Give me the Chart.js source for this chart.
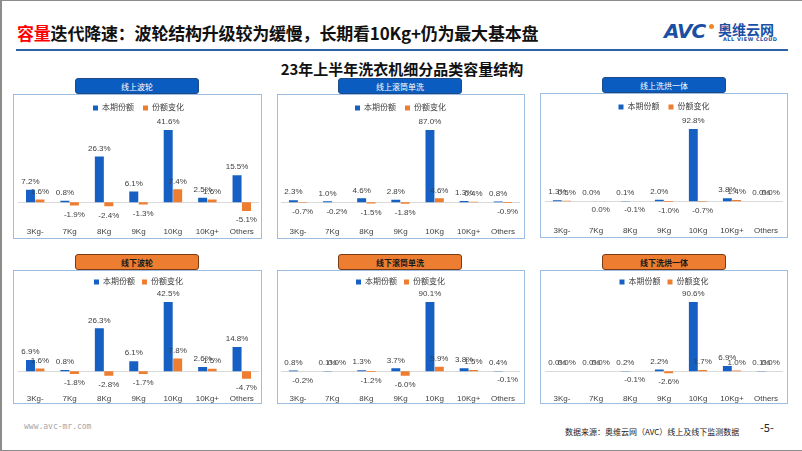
<!DOCTYPE html>
<html>
<head>
<meta charset="utf-8">
<script src="https://cdn.jsdelivr.net/npm/chart.js@4.4.1/dist/chart.umd.min.js"></script>
<style>
  html, body { margin: 0; padding: 0; background: #fff; }
  #slide { position: relative; width: 800px; height: 449px; border: 1px solid #8c8c8c; border-left-width: 2px; overflow: hidden;
           font-family: "Noto Sans CJK SC", "Noto Sans", sans-serif; }
  .title { position: absolute; left: 15px; top: 19px; font-size: 17px; font-weight: bold; color: #111; letter-spacing: -0.2px; }
  .title .red { color: #ff0000; }
  .rule { position: absolute; left: 14px; top: 48px; width: 772px; height: 2px; background: #2e62a8; }
  .subtitle { position: absolute; left: 0; width: 800px; top: 57px; text-align: center; font-size: 15px; font-weight: bold; color: #111; }
  .logo-avc { position: absolute; left: 662px; top: 18px; font: italic 900 20px "DejaVu Sans", sans-serif; color: #1b4fa3; letter-spacing: -1px; }
  .logo-dot { position: absolute; left: 707px; top: 23px; width: 5px; height: 5px; border-radius: 50%; background: #f08a24; }
  .logo-cn { position: absolute; left: 716px; top: 18px; font-size: 14px; font-weight: bold; color: #1b4fa3; }
  .logo-en { position: absolute; left: 721px; top: 35px; font: bold 5px "DejaVu Sans", sans-serif; color: #1b4fa3; letter-spacing: 0.5px; }
  .panel { position: absolute; border: 1px solid #9dbde3; box-sizing: border-box; }
  canvas.chart { position: absolute; }
  .tag { position: absolute; height: 16px; line-height: 15px; text-align: center; font-size: 8px; border-radius: 3px; box-sizing: border-box; }
  .tag.blue { background: #0b5cc0; border: 1px solid #1e4a85; color: #fff; }
  .tag.orange { background: #ed7d31; border: 1px solid #7a3a12; color: #1a1a1a; font-weight: bold; }
  .web { position: absolute; left: 22px; top: 421px; font: 8px "DejaVu Sans Mono", monospace; color: #a6a6a6; }
  .source { position: absolute; left: 563px; top: 425px; font-size: 8px; color: #222; }
  .page { position: absolute; left: 758px; top: 418px; font-size: 11px; color: #222; }
</style>
</head>
<body>
<div id="slide">
  <div class="title"><span class="red">容量</span>迭代降速：波轮结构升级较为缓慢，长期看10Kg+仍为最大基本盘</div>
  <div class="logo-avc">AVC</div>
  <div class="logo-dot"></div>
  <div class="logo-cn">奥维云网</div>
  <div class="logo-en">ALL VIEW CLOUD</div>
  <div class="rule"></div>
  <div class="subtitle">23年上半年洗衣机细分品类容量结构</div>
  <div class="web">www.avc-mr.com</div>
  <div class="source">数据来源：奥维云网（AVC）线上及线下监测数据</div>
  <div class="page">-5-</div>
</div>
<script>
// categories and series
var categories = ['3Kg-', '7Kg', '8Kg', '9Kg', '10Kg', '10Kg+', 'Others'];
var seriesNames = ['本期份额', '份额变化'];
var panelTitles = ['线上波轮', '线上滚筒单洗', '线上洗烘一体', '线下波轮', '线下滚筒单洗', '线下洗烘一体'];

// share of period (%) and change (pct points), one pair per panel
var onlinePulsatorShare   = [7.2, 0.8, 26.3, 6.1, 41.6, 2.5, 15.5];
var onlinePulsatorChange  = [1.6, -1.9, -2.4, -1.3, 7.4, 1.6, -5.1];
var onlineDrumShare       = [2.3, 1.0, 4.6, 2.8, 87.0, 1.3, 0.8];
var onlineDrumChange      = [-0.7, -0.2, -1.5, -1.8, 4.6, 0.4, -0.9];
var onlineWashDryShare    = [1.3, 0.0, 0.1, 2.0, 92.8, 3.8, 0.0];
var onlineWashDryChange   = [0.5, -0, -0.1, -1.0, -0.7, 1.4, 0.0];
var offlinePulsatorShare  = [6.9, 0.8, 26.3, 6.1, 42.5, 2.6, 14.8];
var offlinePulsatorChange = [1.6, -1.8, -2.8, -1.7, 7.8, 1.5, -4.7];
var offlineDrumShare      = [0.8, 0.1, 1.3, 3.7, 90.1, 3.8, 0.4];
var offlineDrumChange     = [-0.2, 0.0, -1.2, -6.0, 5.9, 1.5, -0.1];
var offlineWashDryShare   = [0.0, 0.0, 0.2, 2.2, 90.6, 6.9, 0.1];
var offlineWashDryChange  = [0.0, 0.0, -0.1, -2.6, 1.7, 1.0, 0.0];

var shares  = [onlinePulsatorShare, onlineDrumShare, onlineWashDryShare, offlinePulsatorShare, offlineDrumShare, offlineWashDryShare];
var changes = [onlinePulsatorChange, onlineDrumChange, onlineWashDryChange, offlinePulsatorChange, offlineDrumChange, offlineWashDryChange];

// layout of the six boxes on the slide
var boxes = [
  {x: 13, y: 94, w: 249, tag: 75, padL: 4, padR: 2, color: 'blue', row: 0},
  {x: 277, y: 94, w: 248, tag: 338, padL: 3, padR: 4, color: 'blue', row: 0},
  {x: 540, y: 93, w: 248, tag: 602, padL: 4, padR: 4, color: 'blue', row: 0},
  {x: 13, y: 270, w: 249, tag: 75, padL: 4, padR: 2, color: 'orange', row: 1},
  {x: 277, y: 270, w: 248, tag: 338, padL: 3, padR: 4, color: 'orange', row: 1},
  {x: 540, y: 270, w: 248, tag: 602, padL: 4, padR: 4, color: 'orange', row: 1}
];
// per row: box height, canvas height, legend padding, scale reach above max / below zero
var rows = [
  {h: 145, canvasH: 148, legendPad: 9, top: 81 / 73, bottom: 19.4 / 73},
  {h: 134, canvasH: 139, legendPad: 7, top: 76 / 70, bottom: 17.4 / 70}
];

var BLUE = '#1560c2';
var ORANGE = '#ed7d31';
var FONT = '"Liberation Sans", "Noto Sans CJK SC", sans-serif';

// value labels above / below bars
var valueLabels = {
  id: 'valueLabels',
  afterDatasetsDraw: function(chart) {
    var ctx = chart.ctx;
    ctx.save();
    ctx.font = '8px ' + FONT;
    ctx.fillStyle = '#404040';
    ctx.textAlign = 'center';
    ctx.textBaseline = 'middle';
    chart.data.datasets.forEach(function(ds, i) {
      chart.getDatasetMeta(i).data.forEach(function(bar, j) {
        var v = ds.data[j];
        var neg = v < 0 || Object.is(v, -0);
        var y = neg ? bar.y + 9 : bar.y - 8;
        ctx.fillText(Math.abs(v).toFixed(1) === '0.0' ? '0.0%' : v.toFixed(1) + '%', bar.x, y);
      });
    });
    ctx.restore();
  }
};

// zero line across the plot
var zeroLine = {
  id: 'zeroLine',
  beforeDatasetsDraw: function(chart) {
    var ctx = chart.ctx, a = chart.chartArea;
    var y0 = Math.round(chart.scales.y.getPixelForValue(0)) + 0.5;
    ctx.save();
    ctx.strokeStyle = '#d9d9d9';
    ctx.lineWidth = 1;
    ctx.beginPath();
    ctx.moveTo(a.left, y0);
    ctx.lineTo(a.right, y0);
    ctx.stroke();
    ctx.restore();
  }
};

var slide = document.getElementById('slide');

boxes.forEach(function(b, k) {
  var r = rows[b.row];
  // slide has a 2px left / 1px top border, positions are page coordinates
  var panel = document.createElement('div');
  panel.className = 'panel';
  panel.style.left = (b.x - 2) + 'px';
  panel.style.top = (b.y - 1) + 'px';
  panel.style.width = b.w + 'px';
  panel.style.height = r.h + 'px';
  slide.appendChild(panel);

  var canvas = document.createElement('canvas');
  canvas.className = 'chart';
  canvas.width = b.w - 2;
  canvas.height = r.canvasH;
  canvas.style.left = (b.x - 1) + 'px';
  canvas.style.top = b.y + 'px';
  slide.appendChild(canvas);

  var tag = document.createElement('div');
  tag.className = 'tag ' + b.color;
  tag.style.left = (b.tag - 2) + 'px';
  tag.style.top = (b.y - 17) + 'px';
  tag.style.width = '124px';
  tag.textContent = panelTitles[k];
  slide.appendChild(tag);

  var share = shares[k], change = changes[k];
  var M = Math.max.apply(null, share);

  new Chart(canvas, {
    type: 'bar',
    data: {
      labels: categories,
      datasets: [
        {label: seriesNames[0], data: share, backgroundColor: BLUE, categoryPercentage: 0.55, barPercentage: 0.95},
        {label: seriesNames[1], data: change, backgroundColor: ORANGE, categoryPercentage: 0.55, barPercentage: 0.95}
      ]
    },
    options: {
      responsive: false,
      animation: false,
      devicePixelRatio: 1,
      layout: {padding: {left: b.padL, right: b.padR, top: 0, bottom: 0}},
      plugins: {
        legend: {
          position: 'top',
          labels: {boxWidth: 5, boxHeight: 5, padding: r.legendPad, color: '#404040', font: {size: 8, family: FONT}}
        },
        tooltip: {enabled: false}
      },
      scales: {
        x: {
          grid: {display: false, drawTicks: false},
          border: {display: false},
          ticks: {color: '#404040', padding: 6, font: {size: 8, family: FONT}, maxRotation: 0, autoSkip: false}
        },
        y: {
          display: false,
          min: -M * r.bottom,
          max: M * r.top
        }
      }
    },
    plugins: [zeroLine, valueLabels]
  });
});
</script>
</body>
</html>
